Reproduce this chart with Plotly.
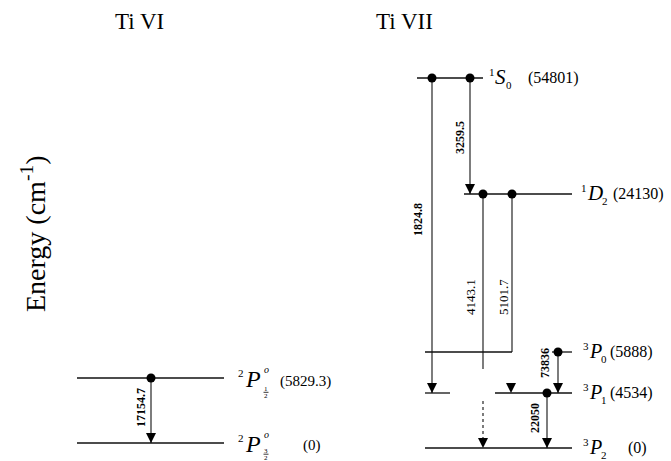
import plotly.graph_objects as go

# ---------------- data ----------------
ion_names = ["Ti VI", "Ti VII"]

tivi_terms = ["2P1/2", "2P3/2"]
tivi_energy = ["5829.3", "0"]          # cm^-1
tivi_lines = ["17154.7"]               # wavelengths (Å)

tivii_terms = ["1S0", "1D2", "3P0", "3P1", "3P2"]
tivii_energy = ["54801", "24130", "5888", "4534", "0"]
tivii_lines = ["3259.5", "1824.8", "4143.1", "5101.7", "73836", "22050"]

# ---------------- schematic layout (canvas pixels) ----------------
W, H = 671, 461
FONT = "Liberation Serif, Times New Roman, serif"

level_y = {"2P1/2": 378, "2P3/2": 443,
           "1S0": 78, "1D2": 194, "3P0": 352, "3P1": 393, "3P2": 448}
level_segments = {"2P1/2": [(77, 224)], "2P3/2": [(77, 224)],
                  "1S0": [(417, 483)], "1D2": [(464, 572)],
                  "3P0": [(425, 512), (552, 572)],
                  "3P1": [(425, 450), (495, 572)],
                  "3P2": [(425, 572)]}

# transitions: label -> (x, upper, lower, label_x, label_y, bold)
transitions = {
    "17154.7": (151, "2P1/2", "2P3/2", 141, 408, True),
    "3259.5": (470, "1S0", "1D2", 460, 138, True),
    "1824.8": (432, "1S0", "3P1", 418, 220, True),
    "4143.1": (483, "1D2", "3P2", 470, 297, False),
    "5101.7": (512, "1D2", "3P1", 503, 297, False),
    "73836": (558, "3P0", "3P1", 545, 363, True),
    "22050": (547, "3P1", "3P2", 535, 418, True),
}

fig = go.Figure()

# level lines
lx, ly = [], []
for term, segs in level_segments.items():
    for a, b in segs:
        lx += [a, b, None]
        ly += [level_y[term], level_y[term], None]
fig.add_trace(go.Scatter(x=lx, y=ly, mode="lines",
                         line=dict(color="#111", width=1.3), hoverinfo="skip"))

# transition lines
sx, sy = [], []      # solid
dx, dy = [], []      # dotted
heads_x, heads_y = [], []
dots_x, dots_y = [], []
for lab in tivi_lines + tivii_lines:
    x, up, lo, _, _, _ = transitions[lab]
    y0, y1 = level_y[up], level_y[lo]
    dots_x.append(x)
    dots_y.append(y0)
    if lab == "4143.1":
        sx += [x, x, None]; sy += [y0, level_y["3P1"] - 24, None]
        dx += [x, x, None]; dy += [level_y["3P1"] + 8, y1, None]
        heads_x.append(x); heads_y.append(y1)
    elif lab == "5101.7":
        sx += [x, x, None]; sy += [y0, level_y["3P0"], None]
        heads_x.append(x - 1); heads_y.append(y1)
    else:
        sx += [x, x, None]; sy += [y0, y1, None]
        heads_x.append(x); heads_y.append(y1)

fig.add_trace(go.Scatter(x=sx, y=sy, mode="lines",
                         line=dict(color="#111", width=1.1), hoverinfo="skip"))
fig.add_trace(go.Scatter(x=dx, y=dy, mode="lines",
                         line=dict(color="#111", width=1.1, dash="dot"), hoverinfo="skip"))
fig.add_trace(go.Scatter(x=heads_x, y=heads_y, mode="markers",
                         marker=dict(symbol="arrow-down", size=10, color="#000",
                                     line=dict(width=0)), hoverinfo="skip"))
fig.add_trace(go.Scatter(x=dots_x, y=dots_y, mode="markers",
                         marker=dict(symbol="circle", size=9, color="#000",
                                     line=dict(width=0)), hoverinfo="skip"))

ann = []
def text(x, y, t, size, xanchor="left", angle=0, yanchor="middle"):
    ann.append(dict(x=x, y=y, text=t, showarrow=False, xref="x", yref="y",
                    xanchor=xanchor, yanchor=yanchor, textangle=angle,
                    borderpad=0, borderwidth=0,
                    font=dict(family=FONT, size=size, color="#000")))

# transition labels
for lab, (x, up, lo, tx, ty, bold) in transitions.items():
    t = f"<b>{lab}</b>" if bold else lab
    text(tx, ty, t, 12 if bold else 13, xanchor="center", angle=-90)

# titles
text(139, 21, ion_names[0], 23, xanchor="center")
text(404, 21, ion_names[1], 23, xanchor="center")
# y label
text(33, 234, "Energy (cm<sup>-1</sup>)", 28, xanchor="center", angle=-90)

# Ti VI term labels: 2P°(J) with J as a stacked fraction
tivi_frac = {"2P1/2": ("1", "2", (11, 14.3, 17.5)),
             "2P3/2": ("3", "2", (8, 11.2, 14.5))}
tivi_en_pos = {"2P1/2": (280, 381), "2P3/2": (303, 445)}
for term, en in zip(tivi_terms, tivi_energy):
    y = level_y[term]
    text(241, y - 5, term[0], 11, xanchor="center")
    text(245, y + 0.5, "<i>P</i>", 24)
    text(266, y - 9, "<i>o</i>", 10, xanchor="center")
    num, den, (dn, db, dd) = tivi_frac[term]
    text(266, y + dn, num, 7, xanchor="center")
    text(266, y + dd, den, 7, xanchor="center")
    fig.add_shape(type="line", x0=263.5, x1=268.5, y0=y + db, y1=y + db,
                  line=dict(color="#000", width=0.8), xref="x", yref="y")
    ex, ey = tivi_en_pos[term]
    text(ex, ey, f"({en})", 15)

# Ti VII term labels: multiplicity (sup), L (italic), J (sub)
term_x = {"1S0": 492, "1D2": 584, "3P0": 586, "3P1": 586, "3P2": 586}
en_x = {"1S0": 528, "1D2": 613, "3P0": 610, "3P1": 610, "3P2": 628}
letter_size = {"S": 21, "D": 21, "P": 20}
letter_adv = {"S": 10.5, "D": 15.2, "P": 12.2}
for term, en in zip(tivii_terms, tivii_energy):
    m, L, J = term[0], term[1], term[2]
    y = level_y[term]
    x0 = term_x[term]
    text(x0, y - 6, m, 11, xanchor="center")
    text(x0 + 3, y - 1, f"<i>{L}</i>", letter_size[L])
    text(x0 + 3 + letter_adv[L] + 3, y + 7, J, 11, xanchor="center")
    text(en_x[term], y, f"({en})", 16)

fig.update_layout(
    width=W, height=H, margin=dict(l=0, r=0, t=0, b=0),
    paper_bgcolor="white", plot_bgcolor="white", showlegend=False,
    annotations=ann,
    xaxis=dict(range=[0, W], visible=False, fixedrange=True),
    yaxis=dict(range=[H, 0], visible=False, fixedrange=True),
)
fig.write_html("out.html",
               config={"displayModeBar": False},
               post_script="document.body.style.margin='0';"
                           "document.body.style.overflow='hidden';")
